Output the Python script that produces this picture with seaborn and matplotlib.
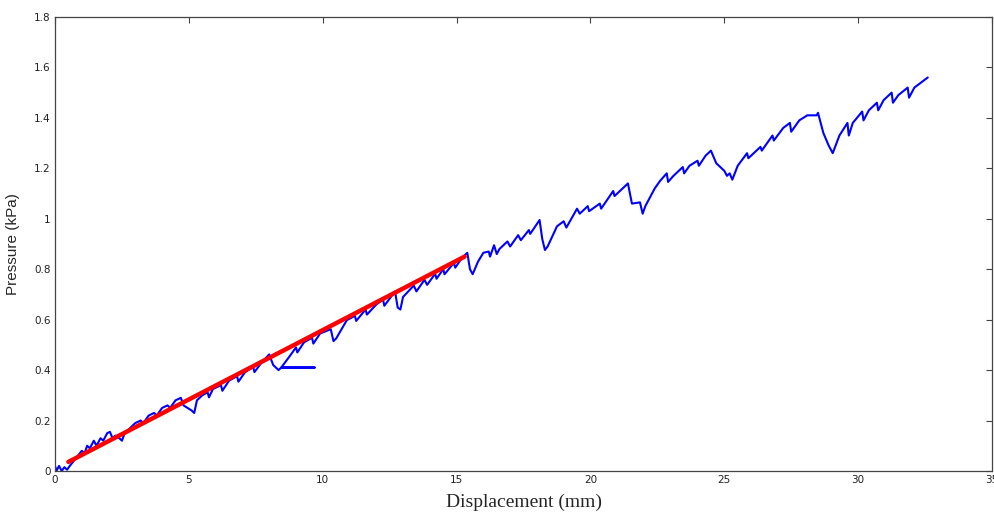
import numpy as np
import pandas as pd
import matplotlib
matplotlib.use('Agg')
import matplotlib.pyplot as plt
import seaborn as sns

disp_mm = [0.00, 0.05, 0.15, 0.25, 0.35, 0.45, 0.55, 0.70, 0.85, 1.00, 1.10, 1.20,
           1.30, 1.45, 1.55, 1.70, 1.80, 1.95, 2.05, 2.15, 2.25, 2.40, 2.50, 2.60,
           2.80, 3.00, 3.20, 3.30, 3.50, 3.70, 3.80, 4.00, 4.20, 4.30, 4.50, 4.70,
           4.80, 4.95, 5.10, 5.20, 5.30, 5.50, 5.70, 5.75, 5.90, 6.20, 6.25, 6.50,
           6.80, 6.85, 7.10, 7.40, 7.45, 7.70, 8.00, 8.15, 8.35, 8.45, 9.70, 8.45,
           8.80, 9.00, 9.05, 9.30, 9.60, 9.65, 9.90, 10.30, 10.40, 10.50, 10.90, 11.20,
           11.25, 11.60, 11.65, 12.00, 12.25, 12.30, 12.70, 12.80, 12.90, 13.00, 13.40, 13.50,
           13.80, 13.90, 14.20, 14.25, 14.50, 14.55, 14.90, 14.95, 15.20, 15.40, 15.50, 15.60,
           15.80, 16.00, 16.20, 16.25, 16.40, 16.50, 16.60, 16.90, 17.00, 17.30, 17.40, 17.70,
           17.75, 18.10, 18.20, 18.30, 18.40, 18.75, 19.00, 19.10, 19.50, 19.60, 19.90, 19.95,
           20.35, 20.40, 20.85, 20.90, 21.20, 21.40, 21.55, 21.85, 21.95, 22.05, 22.20, 22.40,
           22.60, 22.85, 22.90, 23.10, 23.45, 23.50, 23.70, 24.00, 24.05, 24.30, 24.50, 24.70,
           24.85, 25.00, 25.10, 25.20, 25.30, 25.50, 25.85, 25.90, 26.35, 26.40, 26.80, 26.85,
           27.20, 27.45, 27.50, 27.80, 28.10, 28.45, 28.50, 28.70, 28.90, 29.05, 29.30, 29.60,
           29.65, 29.80, 30.15, 30.20, 30.40, 30.70, 30.75, 30.95, 31.25, 31.30, 31.50, 31.85,
           31.90, 32.10, 32.60]
pressure_kpa = [0.020, 0.000, 0.020, 0.000, 0.015, 0.005, 0.020, 0.040, 0.060, 0.080, 0.070, 0.100,
                0.090, 0.120, 0.100, 0.130, 0.120, 0.150, 0.155, 0.130, 0.140, 0.130, 0.120, 0.150,
                0.170, 0.190, 0.200, 0.190, 0.220, 0.230, 0.220, 0.250, 0.260, 0.250, 0.280, 0.290,
                0.260, 0.250, 0.240, 0.230, 0.280, 0.300, 0.312, 0.292, 0.325, 0.340, 0.318, 0.358,
                0.376, 0.354, 0.392, 0.412, 0.392, 0.428, 0.462, 0.420, 0.400, 0.410, 0.410, 0.410,
                0.460, 0.490, 0.470, 0.510, 0.528, 0.505, 0.545, 0.562, 0.515, 0.525, 0.598, 0.615,
                0.595, 0.640, 0.620, 0.660, 0.680, 0.655, 0.712, 0.648, 0.640, 0.690, 0.735, 0.712,
                0.758, 0.738, 0.782, 0.762, 0.800, 0.780, 0.825, 0.806, 0.845, 0.865, 0.800, 0.780,
                0.830, 0.865, 0.870, 0.850, 0.895, 0.860, 0.880, 0.910, 0.890, 0.935, 0.915, 0.955,
                0.940, 0.995, 0.920, 0.876, 0.890, 0.970, 0.990, 0.965, 1.040, 1.020, 1.050, 1.030,
                1.060, 1.040, 1.110, 1.090, 1.120, 1.140, 1.060, 1.065, 1.020, 1.050, 1.080, 1.120,
                1.150, 1.180, 1.146, 1.170, 1.205, 1.180, 1.210, 1.230, 1.210, 1.250, 1.270, 1.220,
                1.205, 1.190, 1.170, 1.180, 1.155, 1.210, 1.260, 1.240, 1.285, 1.270, 1.330, 1.310,
                1.360, 1.380, 1.345, 1.390, 1.410, 1.410, 1.420, 1.340, 1.290, 1.260, 1.330, 1.380,
                1.330, 1.380, 1.425, 1.390, 1.430, 1.460, 1.430, 1.470, 1.500, 1.460, 1.490, 1.520,
                1.480, 1.520, 1.560]

# linear fit segment
fit_x = [0.5, 15.3]
fit_y = [0.036, 0.850]

trace = pd.DataFrame({'disp': disp_mm, 'p': pressure_kpa})
fit = pd.DataFrame({'disp': fit_x, 'p': fit_y})

sns.set_style('white')
fig = plt.figure(figsize=(9.95, 5.14), dpi=100)
ax = fig.add_axes([0.0553, 0.0837, 0.9417, 0.8833])

sns.lineplot(data=trace, x='disp', y='p', sort=False, estimator=None,
             color='#0000ff', linewidth=1.5, ax=ax)
sns.lineplot(data=fit, x='disp', y='p', sort=False, estimator=None,
             color='#ff0000', linewidth=3.2, ax=ax)

ax.set_xlim(0, 35)
ax.set_ylim(0, 1.8)
ax.set_xticks(np.arange(0, 36, 5))
ax.set_yticks(np.round(np.arange(0, 1.81, 0.2), 1))
ax.set_yticklabels(['0', '0.2', '0.4', '0.6', '0.8', '1', '1.2', '1.4', '1.6', '1.8'])
ax.tick_params(direction='in', length=4, width=0.8, top=True, right=True,
               labelsize=7.5, labelcolor='#222222', color='#444444', pad=3)
for s in ax.spines.values():
    s.set_color('#444444')
    s.set_linewidth(0.9)

ax.set_xlabel('Displacement (mm)', fontsize=14, family='Liberation Serif', labelpad=6)
ax.set_ylabel('Pressure (kPa)', fontsize=11, family='Liberation Sans', labelpad=10)

plt.savefig('out.png', dpi=100)
plt.close()
